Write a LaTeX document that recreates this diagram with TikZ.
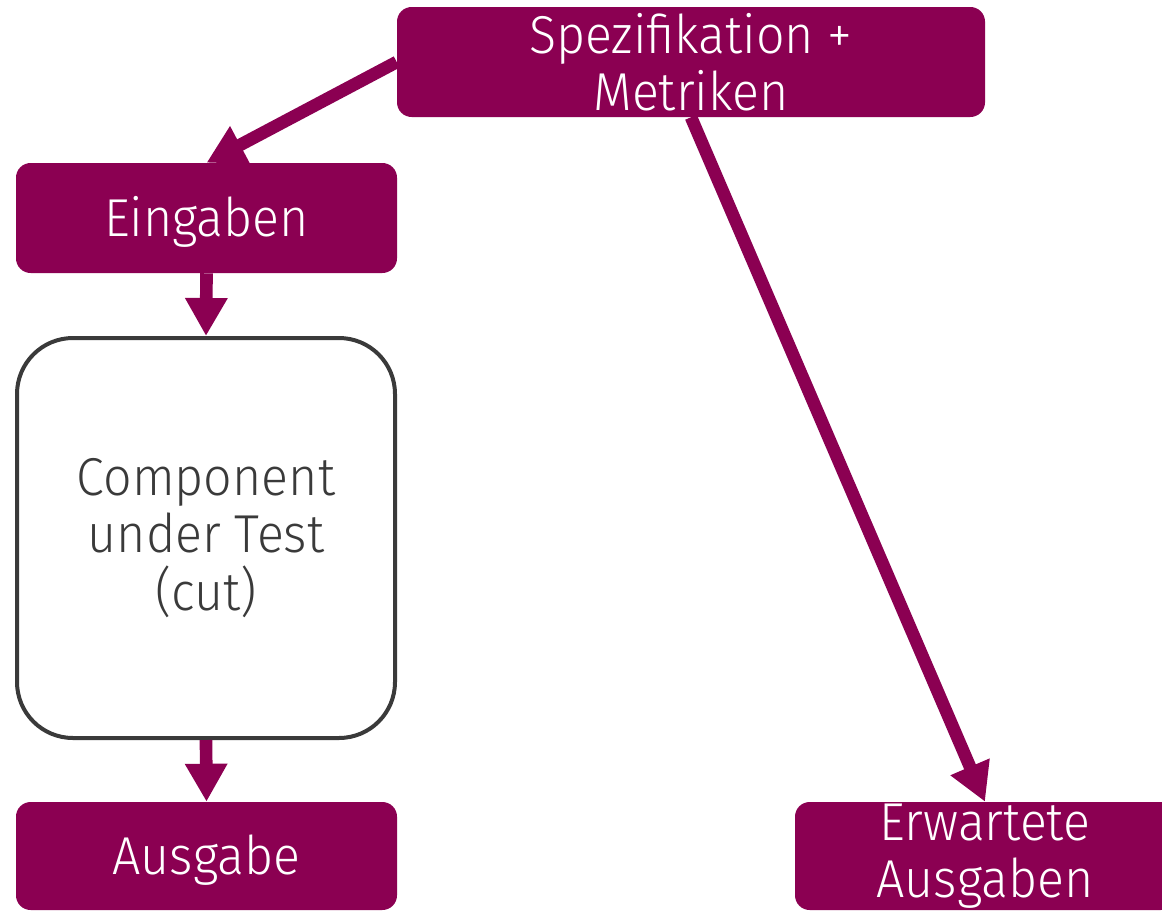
\documentclass[tikz,border=0pt]{standalone}
\usepackage{fontspec}
\setmainfont{Fira Sans}[UprightFont=* Light, FakeStretch=0.94]
\usetikzlibrary{arrows.meta}
\definecolor{cutpurple}{RGB}{139,0,82}
\definecolor{cutgray}{RGB}{58,58,58}

\begin{document}
\begin{tikzpicture}[x=0.75pt,y=-0.75pt]
   \tikzset{BoxStyle/.style={fill=cutpurple,text=white,rounded corners=11pt,inner sep=0pt,align=center,font=\fontsize{40}{43}\selectfont}}
   \tikzset{LineStyle/.style={text height=38pt,text depth=10.4pt}}
   \tikzset{CutStyle/.style={draw=cutgray,line width=3pt,text=cutgray,rounded corners=42pt,inner sep=0pt,align=center,font=\fontsize{40}{43}\selectfont}}
   \tikzset{EdgeStyle/.style={draw=cutpurple,line width=9.5pt,-{Triangle[width=30pt,length=28.5pt]}}}
   \useasboundingbox (0,0) rectangle (1162,910);
   \clip (0,0) rectangle (1162,910);
   \node[BoxStyle,minimum width=441pt,minimum height=82.5pt] (spez) at (691,62) {Spezifikation +\\Metriken};
   \node[BoxStyle,LineStyle,minimum width=285.75pt,minimum height=82.5pt] (ein) at (206.5,218) {Eingaben};
   \node[CutStyle,minimum width=283.5pt,minimum height=300pt] (cut) at (206,538) {Component\\under Test\\(cut)};
   \node[BoxStyle,LineStyle,minimum width=285.75pt,minimum height=81pt] (aus) at (206.5,856) {Ausgabe};
   \node[BoxStyle,minimum width=285pt,minimum height=81pt] (erw) at (985,856) {Erwartete\\Ausgaben};
   \draw[EdgeStyle] (spez.west) -- (ein.north);
   \draw[EdgeStyle] (ein.south) -- (cut.north);
   \draw[EdgeStyle] (cut.south) -- (aus.north);
   \draw[EdgeStyle] (spez.south) -- (erw.north);
\end{tikzpicture}
\end{document}
